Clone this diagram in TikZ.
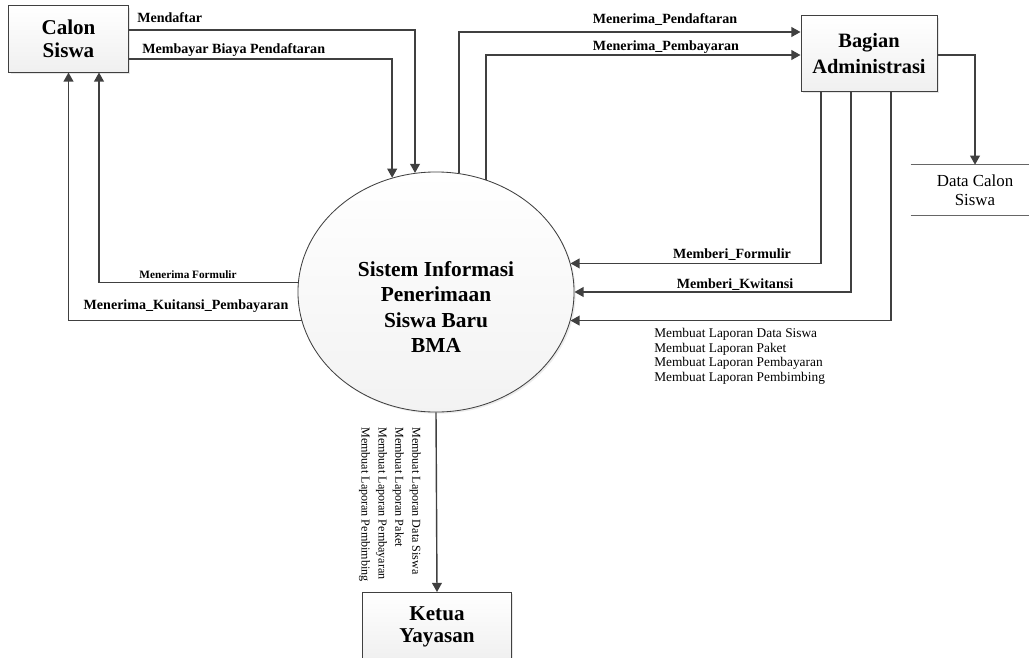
\documentclass[tikz,border=0pt]{standalone}
\usepackage{fontspec}
\setmainfont{Liberation Serif}
\usetikzlibrary{arrows.meta, positioning, shapes.geometric, shadows}

\begin{document}
\begin{tikzpicture}[x=0.025cm, y=-0.025cm, >={Triangle[length=6.5pt,width=7pt]},
		entity/.style={draw=black!75, line width=0.7pt, top color=white, bottom color=gray!12,
			drop shadow={shadow xshift=1.2pt, shadow yshift=-1.2pt, opacity=0.2},
			font=\fontsize{15}{16.5}\selectfont\bfseries, align=center},
		flow/.style={->, draw=black!75, line width=1pt},
		lbl/.style={font=\fontsize{10}{12}\selectfont\bfseries, inner sep=0pt},
		note/.style={font=\fontsize{9.5}{10.3}\selectfont, align=left, inner sep=0pt}]
		
		\useasboundingbox (0,0) rectangle (1029,657);
		
		% --- Entitas luar
		\node[entity, minimum width=2.975cm, minimum height=1.65cm] (calon) at (68.5,39) {Calon\\Siswa};
		\node[entity, minimum width=3.4cm, minimum height=1.875cm,
			font=\fontsize{14.5}{18.5}\selectfont\bfseries] (admin) at (869,53.5) {Bagian\\Administrasi};
		\node[entity, anchor=north, minimum width=3.7cm, minimum height=1.7cm,
			font=\fontsize{15}{15.6}\selectfont\bfseries] (ketua) at (437,592) {Ketua\\Yayasan};
		
		% --- Proses (lingkaran di tengah)
		\node[ellipse, draw=black!75, line width=0.6pt, top color=white, bottom color=gray!10,
			drop shadow={shadow xshift=1.2pt, shadow yshift=-1.2pt, opacity=0.15},
			minimum width=6.9cm, minimum height=6cm] (sys) at (436,292) {};
		\node[font=\fontsize{15.2}{17.8}\selectfont\bfseries, align=center] (systxt) at (436,307)
			{Sistem Informasi\\Penerimaan\\ Siswa Baru\\BMA};
		
		% --- Data store
		\node[font=\fontsize{12}{13.5}\selectfont, align=center, minimum width=3.2cm,
			minimum height=1.25cm] (store) at (975,190) {Data Calon\\Siswa};
		\draw[black!60, line width=0.8pt] (store.north west) -- (store.north east);
		\draw[black!60, line width=0.8pt] (store.south west) -- (store.south east);
		
		% --- Aliran data
		\draw[flow] (calon.east |- 0,30) -| (sys.100.5);
		\draw[flow] (calon.east |- 0,59) -| (sys.111.2);
		\draw[flow] (sys.79) |- (admin.west |- 0,32);
		\draw[flow] (sys.66.9) |- (admin.west |- 0,55);
		\draw[flow] (admin.east |- 0,55) -| (store.north);
		\draw[flow] (admin.south -| 821,0) |- (sys.12.7);
		\draw[flow] (admin.south -| 851,0) |- (sys.east);
		\draw[flow] (admin.south -| 891,0) |- (sys.-12.7);
		\draw[flow] (sys.176.7) -| (calon.south -| 99,0);
		\draw[flow] (sys.192.7) -| (calon.south);
		\draw[flow] (sys.south) -- (ketua.north);
		
		% --- Label aliran
		\node[lbl, anchor=west] (l1) at (137,18) {Mendaftar};
		\node[lbl, anchor=west] (l2) at (142,50) {Membayar Biaya Pendaftaran};
		\node[lbl] (l3) at (665,20) {Menerima\_Pendaftaran};
		\node[lbl] (l4) at (666,47) {Menerima\_Pembayaran};
		\node[lbl, font=\fontsize{8}{10}\selectfont\bfseries] (l5) at (188,275) {Menerima Formulir};
		\node[lbl] (l6) at (186,306) {Menerima\_Kuitansi\_Pembayaran};
		\node[lbl] (l7) at (732,255) {Memberi\_Formulir};
		\node[lbl] (l8) at (735,285) {Memberi\_Kwitansi};
		
		\node[note, anchor=north west] (lapadmin) at (654,328)
			{Membuat Laporan Data Siswa\\Membuat Laporan Paket\\Membuat Laporan Pembayaran\\Membuat Laporan Pembimbing};
		\node[note, rotate=-90, anchor=north west, font=\fontsize{8.6}{12}\selectfont] (lapketua) at (421,427)
			{Membuat Laporan Data Siswa\\Membuat Laporan Paket\\Membuat Laporan Pembayaran\\Membuat Laporan Pembimbing};
		
	\end{tikzpicture}
\end{document}
